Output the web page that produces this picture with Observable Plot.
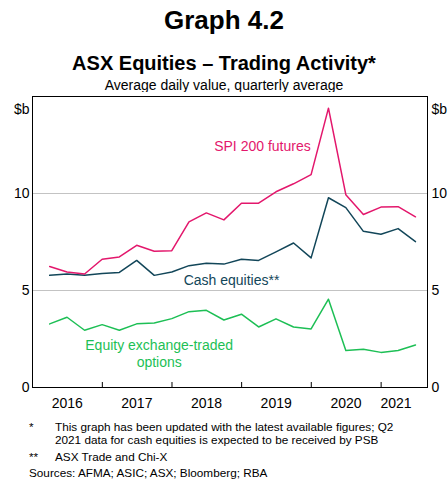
<!DOCTYPE html>
<html>
<head>
<meta charset="utf-8">
<script src="https://cdn.jsdelivr.net/npm/d3@7"></script>
<script src="https://cdn.jsdelivr.net/npm/@observablehq/plot@0.6"></script>
<style>
  html, body { margin: 0; padding: 0; background: #fff; }
  #wrap { position: relative; width: 448px; height: 480px; font-family: "Liberation Sans", Arial, sans-serif; color: #000; overflow: hidden; }
  .t { position: absolute; left: 0; width: 448px; text-align: center; white-space: nowrap; }
  .fn { position: absolute; font-size: 11.75px; line-height: 14px; white-space: nowrap; }
  #chart { position: absolute; left: 0; top: 92px; }
</style>
</head>
<body>
<div id="wrap">
  <div class="t" style="top:5px;font-size:26px;line-height:30px;font-weight:bold;">Graph 4.2</div>
  <div class="t" style="top:51px;font-size:20px;line-height:24px;font-weight:bold;">ASX Equities – Trading Activity*</div>
  <div class="t" style="top:77px;font-size:14px;line-height:16px;">Average daily value, quarterly average</div>
  <div id="chart"></div>
  <div class="fn" style="top:420px;left:29px;">*</div>
  <div class="fn" style="top:420px;left:55px;">This graph has been updated with the latest available figures; Q2</div>
  <div class="fn" style="top:433px;left:55px;">2021 data for cash equities is expected to be received by PSB</div>
  <div class="fn" style="top:450px;left:29px;">**</div>
  <div class="fn" style="top:450px;left:55px;">ASX Trade and Chi-X</div>
  <div class="fn" style="top:466px;left:29px;">Sources: AFMA; ASIC; ASX; Bloomberg; RBA</div>
</div>
<script>
// Quarterly observations ($b, average daily value)
const quarters = [
  "2016-03-31","2016-06-30","2016-09-30","2016-12-31",
  "2017-03-31","2017-06-30","2017-09-30","2017-12-31",
  "2018-03-31","2018-06-30","2018-09-30","2018-12-31",
  "2019-03-31","2019-06-30","2019-09-30","2019-12-31",
  "2020-03-31","2020-06-30","2020-09-30","2020-12-31",
  "2021-03-31","2021-06-30"
];
const spiFutures = [6.24, 5.95, 5.85, 6.61, 6.73, 7.33, 7.02, 7.05, 8.54, 9.0, 8.64, 9.5, 9.5, 10.09, 10.5, 10.97, 14.4, 9.94, 8.92, 9.3, 9.32, 8.8];
const cashEquities = [5.78, 5.85, 5.78, 5.88, 5.93, 6.55, 5.78, 5.95, 6.28, 6.4, 6.36, 6.61, 6.55, 6.99, 7.45, 6.68, 9.78, 9.27, 8.05, 7.9, 8.19, 7.52];
const equityOptions = [3.28, 3.62, 2.95, 3.24, 2.95, 3.28, 3.33, 3.55, 3.91, 3.98, 3.48, 3.78, 3.12, 3.54, 3.12, 3.02, 4.55, 1.91, 1.97, 1.81, 1.91, 2.19];

const seriesNames = ["SPI 200 futures", "Cash equities**", "Equity exchange-traded\noptions"];
const seriesColors = ["#e3176c", "#124659", "#1dbf55"];
const labelDates = ["2019-04-20", "2018-11-09", "2017-10-26"];
const labelValues = [12.49, 5.59, 1.78];

const yTicks = [0, 5, 10];
const gridValues = [5, 10];
const yearBoundaries = ["2017-01-01", "2018-01-01", "2019-01-01", "2020-01-01", "2021-01-01"];
const yearLabels = ["2016", "2017", "2018", "2019", "2020", "2021"];
const yearLabelDates = ["2016-07-01", "2017-07-01", "2018-07-01", "2019-07-01", "2020-07-01", "2021-03-20"];
const xDomain = ["2016-01-01", "2021-09-01"];

const rows = quarters.map((q, i) => ({
  date: new Date(q),
  spi: spiFutures[i],
  cash: cashEquities[i],
  eto: equityOptions[i]
}));

const labelMarks = seriesNames.map((name, i) =>
  Plot.text([name], {
    x: () => new Date(labelDates[i]),
    y: () => labelValues[i],
    fill: seriesColors[i],
    fontSize: 14,
    lineHeight: 1.22,
    textAnchor: "middle"
  })
);

const chart = Plot.plot({
  width: 448,
  height: 315,
  marginLeft: 32,
  marginRight: 21,
  marginTop: 4,
  marginBottom: 20,
  style: { fontFamily: "'Liberation Sans', Arial, sans-serif", fontSize: "14px", color: "#000", background: "#fff", overflow: "visible" },
  x: { type: "utc", domain: xDomain.map(d => new Date(d)), label: null },
  y: { domain: [0, 15], label: null },
  marks: [
    Plot.ruleY(gridValues, { stroke: "#c3c3c3", strokeWidth: 1 }),
    Plot.lineY(rows, { x: "date", y: "eto", stroke: seriesColors[2], strokeWidth: 1.5 }),
    Plot.lineY(rows, { x: "date", y: "cash", stroke: seriesColors[1], strokeWidth: 1.5 }),
    Plot.lineY(rows, { x: "date", y: "spi", stroke: seriesColors[0], strokeWidth: 1.5 }),
    Plot.ruleX(yearBoundaries, { x: d => new Date(d), stroke: "#000", insetTop: 286 }),
    Plot.axisX({
      ticks: yearLabelDates.map(d => new Date(d)),
      tickSize: 0,
      tickPadding: 11,
      tickFormat: (d, i) => yearLabels[i],
      label: null,
      fontSize: 14
    }),
    Plot.axisY({ anchor: "left", ticks: yTicks, tickSize: 0, tickPadding: 3, label: null, fontSize: 14 }),
    Plot.axisY({ anchor: "right", ticks: yTicks, tickSize: 0, tickPadding: 4, label: null, fontSize: 14 }),
    Plot.text(["$b"], { frameAnchor: "top-left", textAnchor: "end", dx: -3, dy: 8, fontSize: 14 }),
    Plot.text(["$b"], { frameAnchor: "top-right", textAnchor: "start", dx: 4, dy: 8, fontSize: 14 }),
    Plot.frame({ stroke: "#000", strokeWidth: 1 }),
    ...labelMarks
  ]
});
document.getElementById("chart").appendChild(chart);
</script>
</body>
</html>
